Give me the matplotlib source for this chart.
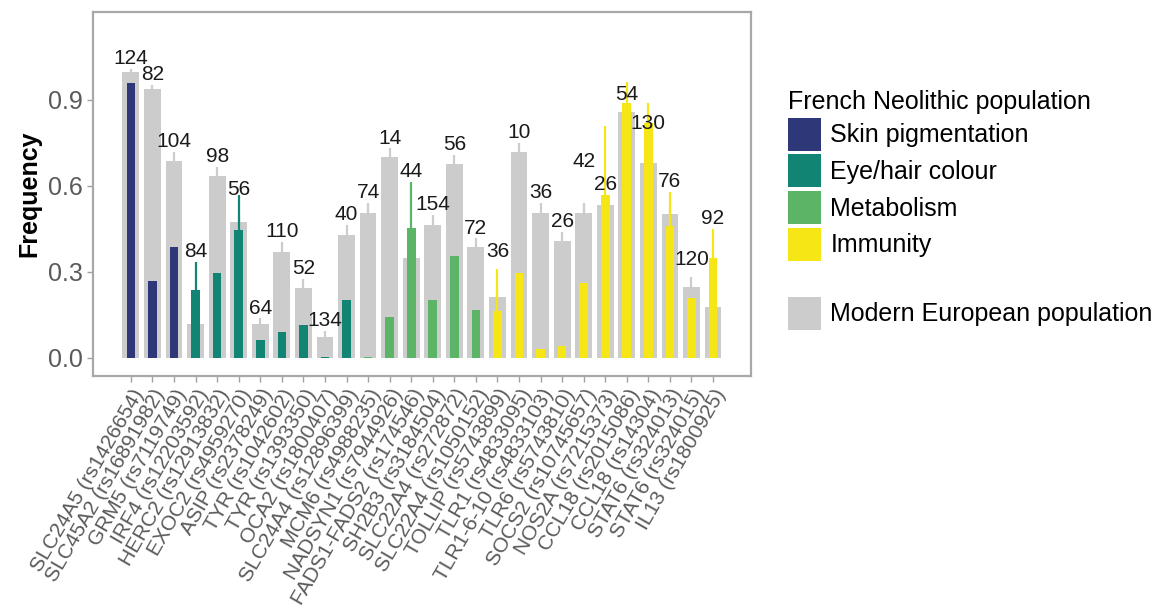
import matplotlib
matplotlib.use("Agg")
import matplotlib.pyplot as plt
from matplotlib.patches import Patch
import numpy as np

plt.rcParams['font.family'] = ['Liberation Sans', 'DejaVu Sans']

# SNP labels along the x axis
snps = [
    "SLC24A5 (rs1426654)", "SLC45A2 (rs16891982)", "GRM5 (rs7119749)",
    "IRF4 (rs12203592)", "HERC2 (rs12913832)", "EXOC2 (rs4959270)",
    "ASIP (rs2378249)", "TYR (rs1042602)", "TYR (rs1393350)",
    "OCA2 (rs1800407)", "SLC24A4 (rs12896399)", "MCM6 (rs4988235)",
    "NADSYN1 (rs7944926)", "FADS1-FADS2 (rs174546)", "SH2B3 (rs3184504)",
    "SLC22A4 (rs272872)", "SLC22A4 (rs1050152)", "TOLLIP (rs5743899)",
    "TLR1 (rs4833095)", "TLR1-6-10 (rs4833103)", "TLR6 (rs5743810)",
    "SOCS2 (rs10745657)", "NOS2A (rs7215373)", "CCL18 (rs2015086)",
    "CCL18 (rs14304)", "STAT6 (rs324013)", "STAT6 (rs324015)",
    "IL13 (rs1800925)",
]

# phenotype group of each SNP
groups = (["Skin pigmentation"] * 3 + ["Eye/hair colour"] * 8
          + ["Metabolism"] * 6 + ["Immunity"] * 11)

# modern European allele frequency and upper error
modern_freq = [0.999, 0.937, 0.688, 0.119, 0.635, 0.475, 0.119, 0.371, 0.243,
               0.074, 0.429, 0.507, 0.700, 0.348, 0.464, 0.677, 0.386, 0.212,
               0.720, 0.507, 0.409, 0.507, 0.534, 0.859, 0.681, 0.502, 0.247,
               0.179]
modern_err = [0.010, 0.015, 0.032, 0.030, 0.032, 0.020, 0.019, 0.035, 0.032,
              0.021, 0.035, 0.035, 0.031, 0.030, 0.035, 0.031, 0.031, 0.025,
              0.029, 0.033, 0.031, 0.033, 0.030, 0.020, 0.020, 0.020, 0.037,
              0.020]

# French Neolithic allele frequency and error
neo_freq = [0.958, 0.270, 0.386, 0.237, 0.295, 0.446, 0.063, 0.092, 0.115,
            0.004, 0.202, 0.004, 0.144, 0.455, 0.202, 0.356, 0.167, 0.165,
            0.298, 0.030, 0.042, 0.263, 0.570, 0.889, 0.820, 0.460, 0.208,
            0.348]
neo_err = [0.0, 0.0, 0.0, 0.099, 0.0, 0.123, 0.0, 0.0, 0.0,
           0.0, 0.0, 0.0, 0.0, 0.160, 0.0, 0.0, 0.0, 0.144,
           0.0, 0.0, 0.0, 0.0, 0.240, 0.075, 0.068, 0.120, 0.0,
           0.101]

# number of chromosomes behind each estimate
sample_n = [124, 82, 104, 84, 98, 56, 64, 110, 52, 134, 40, 74, 14, 44, 154,
            56, 72, 36, 10, 36, 26, 42, 26, 54, 130, 76, 120, 92]

group_colors = {
    "Skin pigmentation": "#2e3878",
    "Eye/hair colour": "#128474",
    "Metabolism": "#5cb467",
    "Immunity": "#f6e616",
}
modern_color = "#cccccc"

# extra vertical shift (points) for labels that were pushed apart
label_shift = {5: -3.5, 17: 5.5, 21: 22.5, 22: -50, 23: -17, 24: -22, 26: 5}

fig = plt.figure(figsize=(11.62, 6.07), dpi=100)
ax = fig.add_axes([0.080, 0.3806, 0.5663, 0.5997])

x = np.arange(len(snps))
neo_colors = [group_colors[g] for g in groups]

ax.bar(x, modern_freq, width=0.78, color=modern_color, zorder=1)
ax.errorbar(x, modern_freq, yerr=modern_err, fmt='none', ecolor=modern_color,
            elinewidth=1.6, capsize=0, zorder=1.5)
ax.bar(x, neo_freq, width=0.4, color=neo_colors, zorder=2)
for xi, f, e, c in zip(x, neo_freq, neo_err, neo_colors):
    if e > 0:
        ax.errorbar(xi, f, yerr=e, fmt='none', ecolor=c, elinewidth=1.6,
                    capsize=0, zorder=2.5)

# sample size labels above the highest mark of each SNP
for i, n in enumerate(sample_n):
    top = max(modern_freq[i] + modern_err[i], neo_freq[i] + neo_err[i])
    ax.annotate(str(n), (x[i], top), xytext=(0, 7.4 + label_shift.get(i, 0)),
                textcoords='offset points', ha='center', va='center',
                fontsize=15, color='#1a1a1a', zorder=4)

ax.set_xlim(-1.76, len(snps) - 1 + 1.76)
ax.set_ylim(-0.063, 1.207)
ax.set_yticks([0.0, 0.3, 0.6, 0.9])
ax.set_yticklabels(["0.0", "0.3", "0.6", "0.9"])
ax.set_xticks(x)
ax.set_xticklabels(snps, rotation=60, ha='right', rotation_mode='anchor')
ax.tick_params(axis='y', labelsize=18, labelcolor='#5a5a5a', color='#a0a0a0',
               length=4, width=1, pad=3)
ax.tick_params(axis='x', labelsize=15, labelcolor='#5a5a5a', color='#a0a0a0',
               length=4, width=1, pad=3)
ax.set_ylabel("Frequency", fontsize=18, fontweight='bold', color='black',
              labelpad=5)
for spine in ax.spines.values():
    spine.set_color('#a8a8a8')
    spine.set_linewidth(1.6)

# legend: ancient groups with title, then the modern reference
neo_handles = [Patch(facecolor=group_colors[g], edgecolor='none')
               for g in group_colors]
fig.legend(neo_handles, list(group_colors), title="French Neolithic population",
           loc='upper left', bbox_to_anchor=(0.678, 0.852),
           frameon=False, fontsize=18, title_fontsize=18,
           handlelength=1.32, handleheight=1.654, labelspacing=0.147,
           handletextpad=0.38, borderpad=0, borderaxespad=0,
           alignment='left')
fig.legend([Patch(facecolor=modern_color, edgecolor='none')],
           ["Modern European population"], loc='upper left',
           bbox_to_anchor=(0.678, 0.511), frameon=False, fontsize=18,
           handlelength=1.32, handleheight=1.654, handletextpad=0.38,
           borderpad=0, borderaxespad=0)

fig.savefig("out.png", dpi=100)
